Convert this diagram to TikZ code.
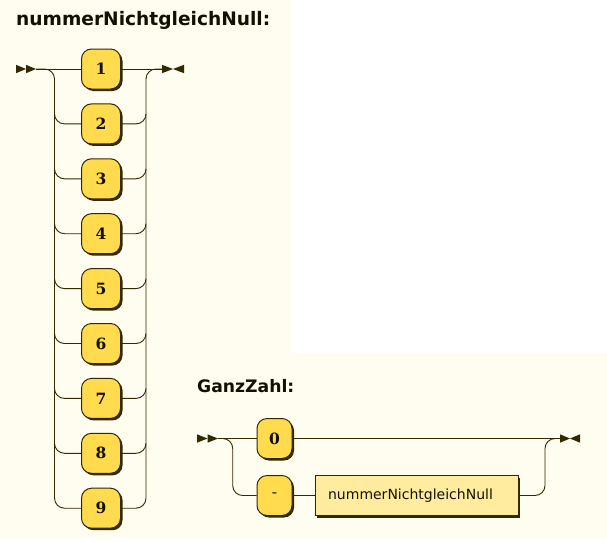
\documentclass[tikz,border=0pt]{standalone}
\usepackage{fontspec}
\setmainfont{DejaVu Sans}
\newfontfamily\termfont{DejaVu Serif}
\usetikzlibrary{shadows}
\definecolor{bg}{HTML}{FFFCF0}
\definecolor{ln}{HTML}{332900}
\definecolor{term}{HTML}{FFDB4D}
\definecolor{nterm}{HTML}{FFEC9E}
\definecolor{txt}{HTML}{141000}
\begin{document}
\begin{tikzpicture}[x=1pt,y=-1pt,
  rail/.style={draw=ln,line width=0.9pt},
  railc/.style={rail,rounded corners=10pt},
  marker/.style={fill=ln},
  title/.style={anchor=base west,inner sep=0pt,text=txt,font=\bfseries\fontsize{18.6}{20}\selectfont},
  termbox/.style={draw=ln,line width=1pt,fill=term,rounded corners=10pt,
    minimum width=39pt,minimum height=40pt,inner sep=0pt,text=txt,
    font=\termfont\bfseries\fontsize{15.5}{17}\selectfont,
    drop shadow={shadow xshift=2pt,shadow yshift=-2pt,fill=ln,opacity=1}},
  ntbox/.style={draw=ln,line width=1pt,fill=nterm,
    minimum width=203pt,minimum height=40pt,inner sep=0pt,text=txt,
    font=\fontsize{14}{16}\selectfont,
    drop shadow={shadow xshift=2pt,shadow yshift=-2pt,fill=ln,opacity=1}}]
\useasboundingbox (0,0) rectangle (607,541);
\fill[bg] (0,0) rectangle (291,538);
\fill[bg] (180,353) rectangle (607,538);

% ---------- nummerNichtgleichNull ----------
\node[title] (titleA) at (16,25) {nummerNichtgleichNull:};
\coordinate (sA) at (36,69);
\coordinate (lA) at (54.5,69);
\coordinate (rA) at (146,69);
\coordinate (eA) at (162,69);
\fill[marker] (16,64.8) -- (26,69) -- (16,73.2) -- cycle;
\fill[marker] (26,64.8) -- (36,69) -- (26,73.2) -- cycle;
\fill[marker] (162,64.8) -- (173,69) -- (162,73.2) -- cycle;
\fill[marker] (184,64.8) -- (173,69) -- (184,73.2) -- cycle;
\foreach \d [count=\i from 0] in {1,...,9} {
  \pgfmathsetmacro\yy{69+54.9*\i}
  \node[termbox] (t\d) at (101,\yy) {\d};
}
\draw[rail] (sA) -- (t1.west);
\draw[rail] (t1.east) -- (eA);
% outer rails (to the last row)
\draw[railc] (sA) -- (lA) -- (lA |- t9) -- (t9.west);
\draw[railc] (t9.east) -- (rA |- t9) -- (rA) -- (eA);
% inner branches
\foreach \d in {2,...,8} {
  \draw[railc] ([yshift=10pt]lA |- t\d) -- (lA |- t\d) -- (t\d.west);
  \draw[railc] (t\d.east) -- (rA |- t\d) -- ([yshift=10pt]rA |- t\d);
}

% ---------- GanzZahl ----------
\node[title,font=\bfseries\fontsize{17.2}{19}\selectfont] (titleB) at (197,392) {GanzZahl:};
\coordinate (sB) at (218,438.5);
\coordinate (lB) at (232.7,438.5);
\coordinate (rB) at (545,438.5);
\coordinate (eB) at (560,438.5);
\fill[marker] (197,434.3) -- (207.5,438.5) -- (197,442.7) -- cycle;
\fill[marker] (207.5,434.3) -- (218,438.5) -- (207.5,442.7) -- cycle;
\fill[marker] (560,434.3) -- (570,438.5) -- (560,442.7) -- cycle;
\fill[marker] (580,434.3) -- (570,438.5) -- (580,442.7) -- cycle;
\node[termbox,minimum width=35pt] (z) at (274.5,438.5) {0};
\node[termbox,minimum width=35pt,font=\termfont\fontsize{15.5}{17}\selectfont] (m) at (274.5,495.5) {-};
\node[ntbox] (nn) at (416.5,495.5) {\hspace*{-12pt}nummerNichtgleichNull};
\draw[rail] (sB) -- (z.west);
\draw[rail] (z.east) -- (eB);
\draw[railc] (sB) -- (lB) -- (lB |- m) -- (m.west);
\draw[rail] (m.east) -- (nn.west);
\draw[railc] (nn.east) -- (rB |- nn) -- (rB) -- (eB);
\end{tikzpicture}
\end{document}
